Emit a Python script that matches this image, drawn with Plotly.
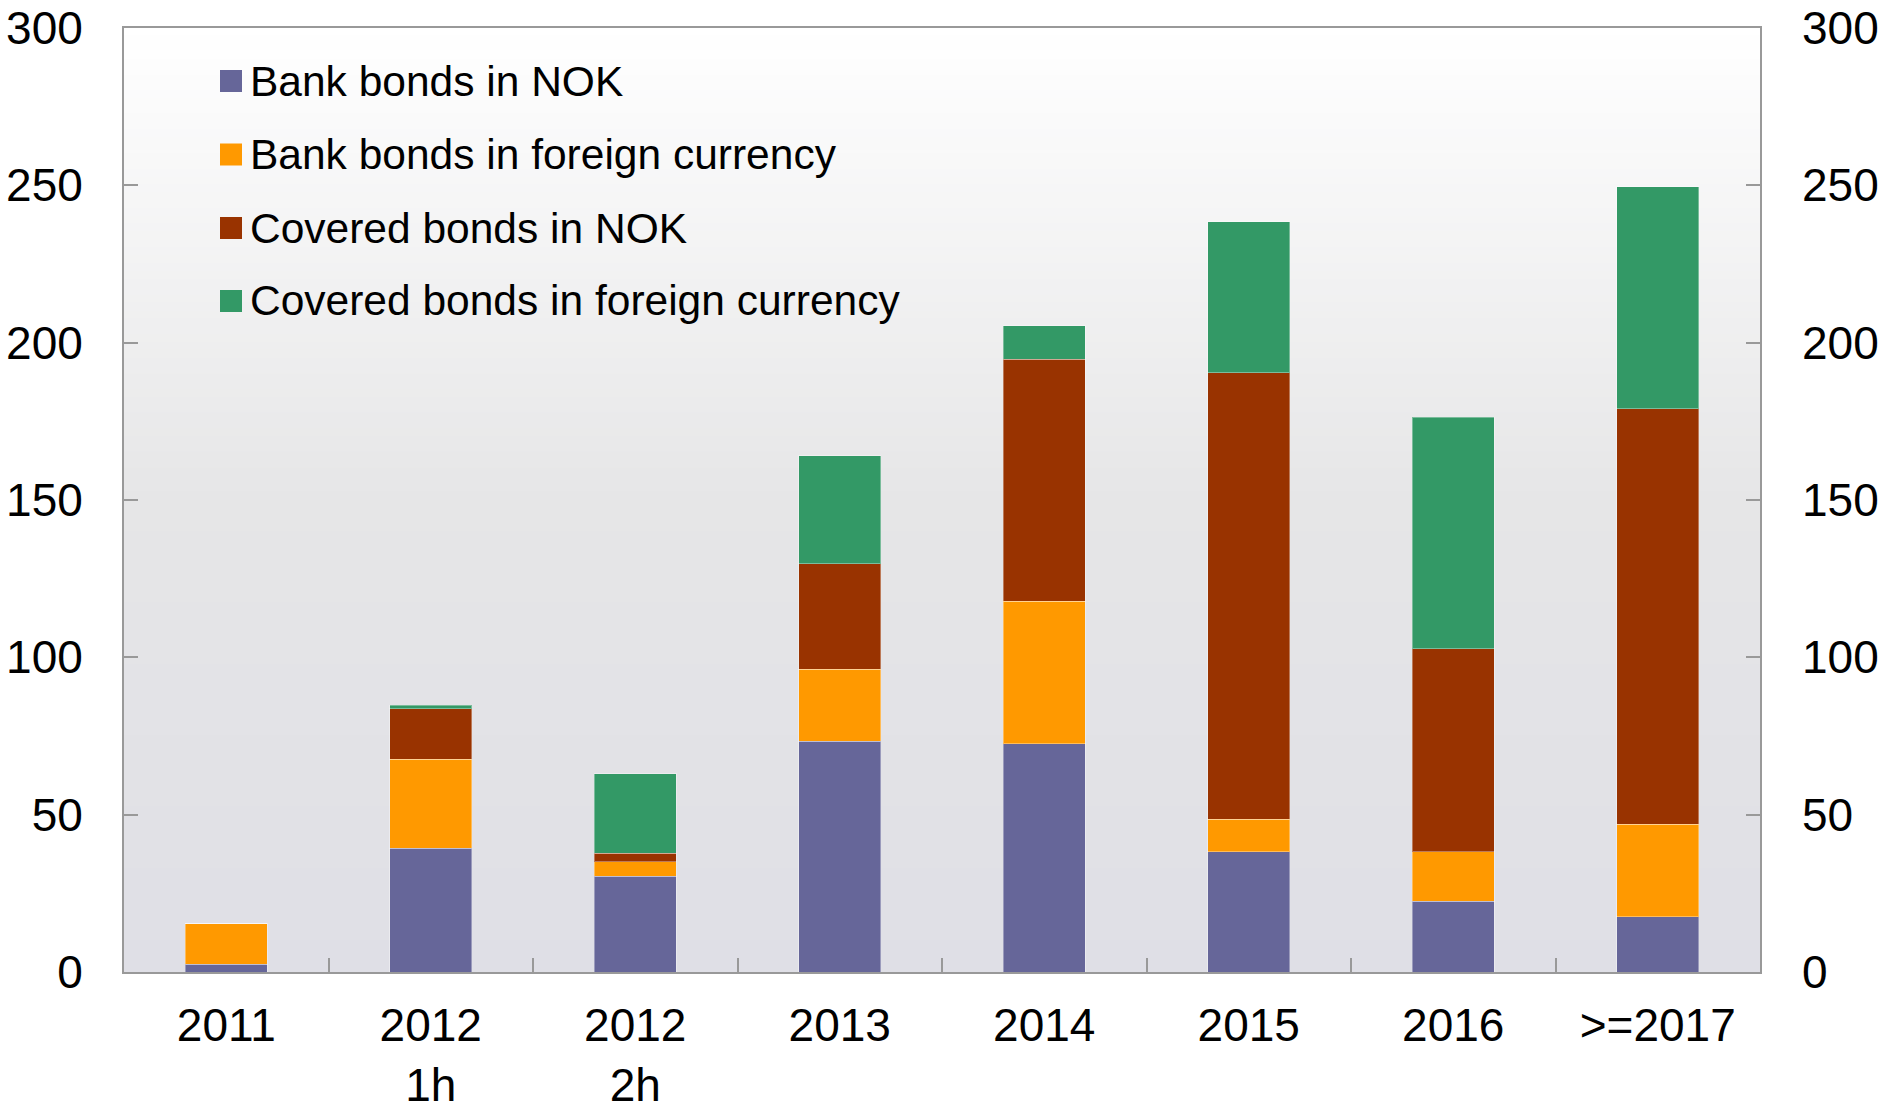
import plotly.graph_objects as go

categories = ["2011", "2012<br>1h", "2012<br>2h", "2013", "2014", "2015", "2016", ">=2017"]

bank_nok = [2.5, 39.3, 30.5, 73.3, 72.5, 38.2, 22.5, 17.6]
bank_foreign = [12.8, 28.3, 4.6, 22.9, 45.4, 10.3, 15.7, 29.3]
covered_nok = [0, 16.0, 2.7, 33.6, 76.8, 142.0, 64.5, 132.1]
covered_foreign = [0, 1.1, 25.2, 34.3, 10.6, 48.0, 73.6, 70.6]

series_names = ["Bank bonds in NOK", "Bank bonds in foreign currency",
                "Covered bonds in NOK", "Covered bonds in foreign currency"]
series_values = [bank_nok, bank_foreign, covered_nok, covered_foreign]
colours = ["#666699", "#FF9900", "#993300", "#339966"]

FONT = "Liberation Sans, Arial, sans-serif"

fig = go.Figure()
for name, vals, col in zip(series_names, series_values, colours):
    fig.add_trace(go.Bar(
        x=categories,
        y=vals,
        name=name,
        marker=dict(color=col, line=dict(color="rgba(255,255,255,0.35)", width=1)),
        showlegend=False
    ))

# invisible trace so the right-hand axis gets drawn
fig.add_trace(go.Scatter(x=categories, y=bank_nok, yaxis="y2", mode="none",
                         hoverinfo="skip", showlegend=False))

# vertical gradient behind the plot area
shapes = []
n = 120
stops = [(0.0, (255, 255, 255)), (0.5, (230, 230, 231)), (1.0, (223, 223, 230))]
def grad(t):
    for (t0, c0), (t1, c1) in zip(stops[:-1], stops[1:]):
        if t <= t1:
            f = (t - t0) / (t1 - t0)
            return tuple(round(a + (b - a) * f) for a, b in zip(c0, c1))
    return stops[-1][1]
for i in range(n):
    r, g, b = grad((i + 0.5) / n)
    shapes.append(dict(type="rect", xref="paper", yref="paper",
                       x0=0, x1=1, y0=1 - (i + 1) / n, y1=1 - i / n + 0.001,
                       fillcolor="rgb(%d,%d,%d)" % (r, g, b), line=dict(width=0),
                       layer="below"))

# manual legend with big square markers (plot area is 1636 x 944 px)
annotations = []
row_y = [53, 126.5, 200, 273]
for name, col, yc in zip(series_names, colours, row_y):
    py = 1 - yc / 944
    h = 11 / 944
    shapes.append(dict(type="rect", xref="paper", yref="paper",
                       x0=96 / 1636, x1=118 / 1636,
                       y0=py - h, y1=py + h, fillcolor=col, line=dict(width=0)))
    annotations.append(dict(x=124 / 1636, y=py, xref="paper", yref="paper",
                            text=name, showarrow=False, xanchor="left", yanchor="middle",
                            font=dict(size=42.5, color="black", family=FONT)))

axis_col = "#999999"
fig.update_layout(
    width=1883, height=1110,
    margin=dict(l=124, r=123, t=28, b=138),
    paper_bgcolor="white",
    plot_bgcolor="rgba(0,0,0,0)",
    barmode="stack",
    bargap=0.6,
    font=dict(family=FONT, size=46, color="black"),
    shapes=shapes,
    annotations=annotations,
    xaxis=dict(
        showline=True, linecolor=axis_col, linewidth=2, mirror=True, automargin=False,
        ticks="inside", tickson="boundaries", ticklen=14, tickwidth=2, tickcolor=axis_col,
        showgrid=False, ticklabelstandoff=12, tickfont=dict(size=46)
    ),
    yaxis=dict(
        range=[0, 300], dtick=50, showline=True, linecolor=axis_col, linewidth=2,
        mirror=True, ticks="inside", ticklen=14, tickwidth=2, tickcolor=axis_col,
        automargin=False,
        showgrid=False, zeroline=False, ticklabelstandoff=30, tickfont=dict(size=46)
    ),
    yaxis2=dict(
        range=[0, 300], dtick=50, overlaying="y", side="right", showline=False,
        ticks="inside", ticklen=14, tickwidth=2, tickcolor=axis_col, automargin=False,
        showgrid=False, zeroline=False, ticklabelstandoff=41, tickfont=dict(size=46)
    ),
)

# drop the default page margin so the figure fills the window exactly
fig.write_html("out.html", config={"displayModeBar": False},
               post_script="document.body.style.margin='0';")
